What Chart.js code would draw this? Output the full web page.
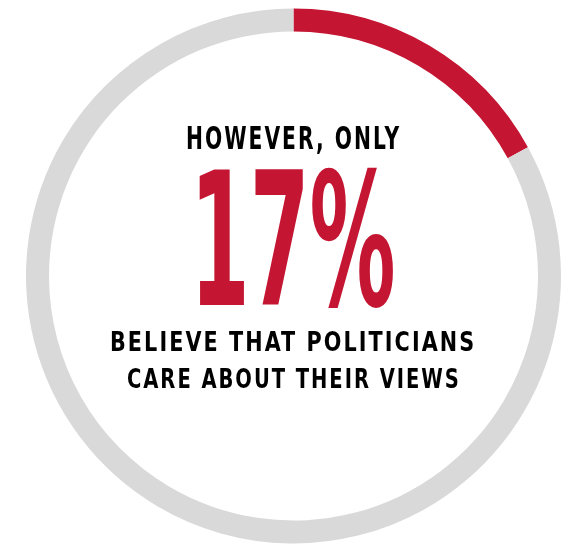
<!DOCTYPE html>
<html>
<head>
<meta charset="utf-8">
<script src="https://cdn.jsdelivr.net/npm/chart.js@4.4.1/dist/chart.umd.min.js"></script>
<style>
  html, body { margin: 0; padding: 0; background: #ffffff; }
  #wrap { position: relative; width: 565px; height: 547px; overflow: hidden; }
  #c { position: absolute; left: 0; top: 0; }
  .t { position: absolute; white-space: nowrap; transform-origin: 0 0; margin: 0; padding: 0; }
</style>
</head>
<body>
<div id="wrap">
  <canvas id="c" width="565" height="547"></canvas>
  <div class="t" id="t1">HOWEVER, ONLY</div>
  <div class="t" id="t2">17%</div>
  <div class="t" id="t3">BELIEVE THAT POLITICIANS</div>
  <div class="t" id="t4">CARE ABOUT THEIR VIEWS</div>
</div>
<script>
const categories = ['Believe politicians care', 'Do not'];
const shareValues = [17, 83];
const sliceColors = ['#C41632', '#D9D9D9'];
const headline = 'HOWEVER, ONLY';
const bigValue = '17%';
const lines = ['BELIEVE THAT POLITICIANS', 'CARE ABOUT THEIR VIEWS'];

new Chart(document.getElementById('c'), {
  type: 'doughnut',
  data: {
    labels: categories,
    datasets: [{ data: shareValues, backgroundColor: sliceColors, borderWidth: 0, hoverOffset: 0 }]
  },
  options: {
    responsive: false,
    animation: false,
    cutout: '91.4%',
    rotation: 0,
    layout: { padding: { left: 26, right: 4, top: 8, bottom: 3 } },
    plugins: { legend: { display: false }, tooltip: { enabled: false } },
    events: []
  }
});

const mctx = document.createElement('canvas').getContext('2d');
function place(id, text, family, weight, lsEm, color, left, right, capTop, baseline, capRef) {
  const el = document.getElementById(id);
  el.textContent = text;
  mctx.font = weight + ' 100px ' + family;
  const capRatio = mctx.measureText(capRef).actualBoundingBoxAscent / 100;
  const fs = (baseline - capTop) / capRatio;
  const font = weight + ' ' + fs + 'px ' + family;
  mctx.font = font;
  mctx.letterSpacing = (lsEm * fs) + 'px';
  const m = mctx.measureText(text);
  const inkW = m.actualBoundingBoxLeft + m.actualBoundingBoxRight;
  const sx = (right - left) / inkW;
  const fA = m.fontBoundingBoxAscent, fD = m.fontBoundingBoxDescent;
  const lh = fs;
  const baseOff = (lh - (fA + fD)) / 2 + fA;
  el.style.font = font;
  el.style.lineHeight = lh + 'px';
  el.style.letterSpacing = (lsEm * fs) + 'px';
  el.style.color = color;
  el.style.left = (left + m.actualBoundingBoxLeft * sx) + 'px';
  el.style.top = (baseline - baseOff) + 'px';
  el.style.transform = 'scaleX(' + sx + ')';
}
const fam = '"Liberation Sans Narrow", "DejaVu Sans Condensed", Roboto, sans-serif';
place('t1', headline, fam, 'bold', 0.09, '#000000', 187, 399, 127, 150, 'H');
place('t2', bigValue, fam, 'bold', 0.0, '#C41632', 199, 393, 170, 305, '17');
place('t3', lines[0], fam, 'bold', 0.09, '#000000', 112, 473, 331, 351, 'B');
place('t4', lines[1], fam, 'bold', 0.09, '#000000', 128, 458, 369, 389, 'C');
</script>
</body>
</html>
